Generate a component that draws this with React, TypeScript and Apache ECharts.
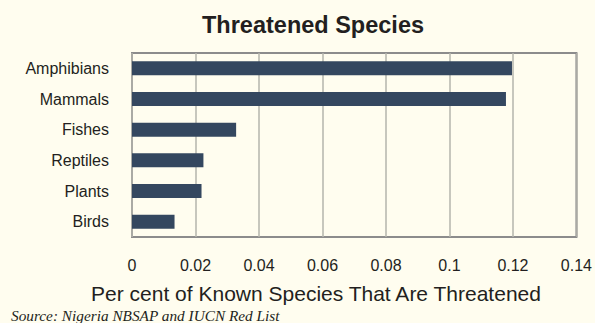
import React, { useEffect, useRef } from "react";
import * as echarts from "echarts";

const categories = ["Amphibians", "Mammals", "Fishes", "Reptiles", "Plants", "Birds"];
const values = [0.1197, 0.1178, 0.0328, 0.0225, 0.0219, 0.0134];
const xTicks = [0, 0.02, 0.04, 0.06, 0.08, 0.1, 0.12, 0.14];

const FONT = "Liberation Sans, Arial, sans-serif";

export default function App() {
  const ref = useRef<HTMLDivElement>(null);
  useEffect(() => {
    document.body.style.margin = "0";
    const chart = echarts.init(ref.current!, null, { renderer: "svg" });
    chart.setOption({
      animation: false,
      backgroundColor: "#FFFDEF",
      textStyle: { fontFamily: FONT },
      title: {
        text: "Threatened Species",
        left: 197,
        top: 8,
        textStyle: { fontSize: 23.5, fontWeight: "bold", color: "#231F20", fontFamily: FONT },
      },
      grid: {
        left: 132,
        right: 15,
        top: 53,
        bottom: 86,
        show: true,
        borderColor: "#8C8C8C",
        borderWidth: 2,
        backgroundColor: "transparent",
      },
      xAxis: {
        type: "value",
        min: xTicks[0],
        max: xTicks[xTicks.length - 1],
        interval: 0.02,
        axisLine: { show: false },
        axisTick: { show: false },
        axisLabel: {
          margin: 20,
          fontSize: 16,
          color: "#231F20",
          fontFamily: FONT,
          formatter: (v: number) => String(Math.round(v * 100) / 100),
        },
        splitLine: { show: true, lineStyle: { color: "#B5B5AD", width: 1.5 } },
      },
      yAxis: {
        type: "category",
        data: categories,
        inverse: true,
        axisLine: { show: false },
        axisTick: { show: false },
        axisLabel: { margin: 23, fontSize: 16, color: "#231F20", fontFamily: FONT },
        splitLine: { show: false },
      },
      series: [
        {
          type: "bar",
          data: values,
          barWidth: 14,
          itemStyle: { color: "#34475F" },
        },
      ],
      graphic: [
        {
          type: "text",
          x: 316,
          y: 293,
          style: {
            text: "Per cent of Known Species That Are Threatened",
            font: "21px Liberation Sans, Arial, sans-serif",
            fill: "#231F20",
            textAlign: "center",
            textVerticalAlign: "middle",
          },
        },
        {
          type: "text",
          x: 11,
          y: 315,
          style: {
            text: "Source: Nigeria NBSAP and IUCN Red List",
            font: "italic 15.3px Liberation Serif, Times New Roman, serif",
            fill: "#231F20",
            textVerticalAlign: "middle",
          },
        },
      ],
    });
    return () => chart.dispose();
  }, []);
  return <div ref={ref} style={{ width: 595, height: 323 }} />;
}
